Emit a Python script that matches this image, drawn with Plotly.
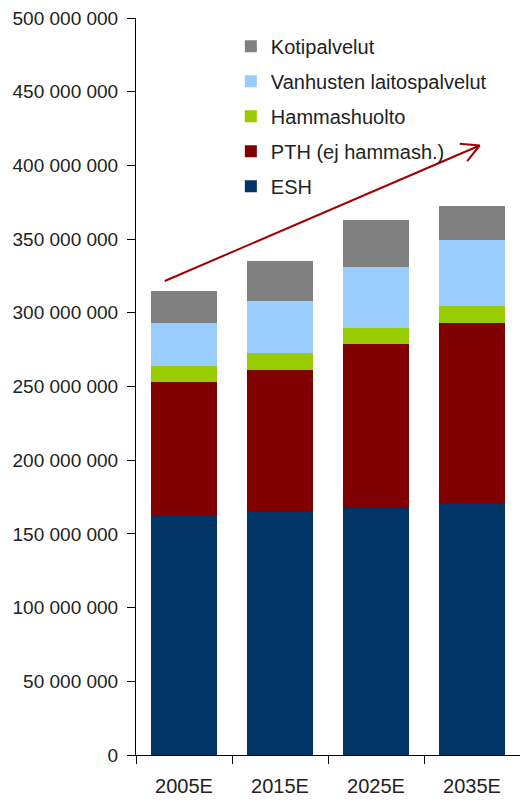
import math
import plotly.graph_objects as go

categories = ["2005E", "2015E", "2025E", "2035E"]
esh = [162_600_000, 164_900_000, 167_600_000, 170_800_000]
pth = [90_500_000, 96_300_000, 111_200_000, 122_300_000]
hammas = [10_800_000, 11_500_000, 10_900_000, 11_500_000]
vanhusten = [29_200_000, 35_300_000, 41_400_000, 44_800_000]
koti = [21_700_000, 27_100_000, 31_900_000, 23_100_000]
y_ticks = [0, 50_000_000, 100_000_000, 150_000_000, 200_000_000, 250_000_000,
           300_000_000, 350_000_000, 400_000_000, 450_000_000, 500_000_000]

series = [
    ("ESH", esh, "#003366"),
    ("PTH (ej hammash.)", pth, "#800000"),
    ("Hammashuolto", hammas, "#99CC00"),
    ("Vanhusten laitospalvelut", vanhusten, "#99CCFF"),
    ("Kotipalvelut", koti, "#808080"),
]

FONT = "Liberation Sans Narrow, Arial Narrow, Liberation Sans, Arial, sans-serif"
W, H = 520, 802
ML, MR, MT, MB = 136, 0, 18, 47
PW, PH = W - ML - MR, H - MT - MB
YMAX = 500_000_000

fig = go.Figure()
n = len(series)
for i, (name, vals, col) in enumerate(series):
    fig.add_trace(go.Bar(x=categories, y=vals, name=name, marker_color=col,
                         marker_line_width=0, legendgroup=name,
                         legendrank=n - i))

# trend arrow (data coordinates)
ax0, ay0 = -0.2, 321_600_000
ax1, ay1 = 3.08, 413_500_000
arrow_col = "#A00000"
shapes = [dict(type="line", xref="x", yref="y", x0=ax0, y0=ay0, x1=ax1, y1=ay1,
               line=dict(color=arrow_col, width=2))]
# open arrowhead computed in pixel space
px_per_x = PW / 4.0
px_per_y = PH / YMAX
dxp = (ax1 - ax0) * px_per_x
dyp = (ay1 - ay0) * px_per_y
ang = math.atan2(dyp, dxp)
L = 20
for da in (math.radians(28), -math.radians(28)):
    a = ang + math.pi + da
    ex = ax1 + L * math.cos(a) / px_per_x
    ey = ay1 + L * math.sin(a) / px_per_y
    shapes.append(dict(type="line", xref="x", yref="y", x0=ax1, y0=ay1, x1=ex, y1=ey,
                       line=dict(color=arrow_col, width=2)))

fig.update_layout(
    width=W, height=H,
    margin=dict(l=ML, r=MR, t=MT, b=MB, pad=0, autoexpand=False),
    barmode="stack", bargap=0.32,
    plot_bgcolor="white", paper_bgcolor="white",
    separators=", ",
    font=dict(family=FONT, size=20, color="#222222"),
    shapes=shapes,
    legend=dict(x=0.247, y=0.988, xanchor="left", yanchor="top",
                traceorder="grouped", bgcolor="rgba(0,0,0,0)",
                tracegroupgap=6,
                font=dict(family=FONT, size=20, color="#222222"),
                itemwidth=30),
    showlegend=True,
)
fig.update_xaxes(type="category", showline=True, linecolor="black", linewidth=1,
                 ticks="outside", ticklen=8, tickcolor="black",
                 tickson="boundaries", showgrid=False, automargin=False,
                 ticklabelstandoff=13,
                 range=[-0.5, 3.5], fixedrange=True)
fig.update_yaxes(range=[0, YMAX], tickvals=y_ticks, tickformat=",.0f",
                 showline=True, linecolor="black", linewidth=1,
                 ticks="outside", ticklen=8, tickcolor="black",
                 tickfont=dict(size=19), ticklabelstandoff=5,
                 showgrid=False, zeroline=False, automargin=False)

fig.write_html("out.html", config={"displayModeBar": False},
               post_script="document.body.style.margin='0';document.body.style.overflow='hidden';")
